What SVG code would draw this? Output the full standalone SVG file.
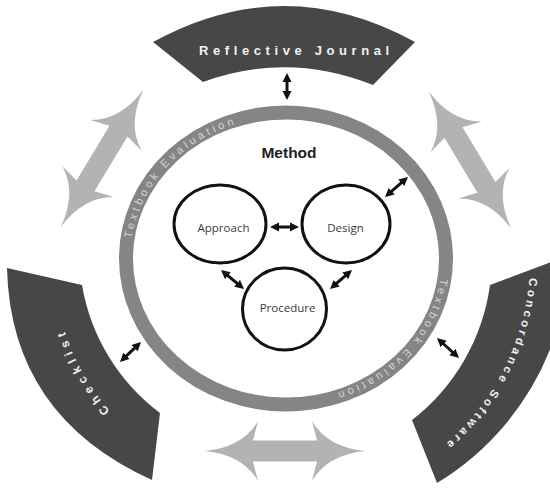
<svg xmlns="http://www.w3.org/2000/svg" width="550" height="489" viewBox="0 0 550 489">
<style>
.banner{fill:#474747}
.btxt{font-family:"Liberation Sans",Arial,sans-serif;font-weight:bold;fill:#f2f2f2}
.ring{fill:none;stroke:#858585;stroke-width:14}
.rtxt{font-family:"Liberation Sans",Arial,sans-serif;font-size:11px;fill:#d6d6d6;letter-spacing:3.5px}
.node{fill:#fff;stroke:#111;stroke-width:3}
.ntxt{font-family:"Open Sans","Liberation Sans",sans-serif;font-size:11.5px;fill:#3a3a3a;text-anchor:middle}
.big{fill:#b3b3b3}
.small{stroke:#111;stroke-width:3;fill:none;marker-start:url(#ah);marker-end:url(#ah)}
</style>
<defs>
<marker id="ah" markerUnits="userSpaceOnUse" markerWidth="10" markerHeight="10" viewBox="0 0 10 10" refX="3" refY="5" orient="auto-start-reverse"><path d="M0,0.5 L9,5 L0,9.5 z" fill="#111"/></marker>
<path id="dbl" d="M80,0 Q42,-4 27,-30 L32,-10.5 L-32,-10.5 L-27,-30 Q-42,-4 -80,0 Q-42,4 -27,30 L-32,10.5 L32,10.5 L27,30 Q42,4 80,0 Z"/>
<path id="ringA" d="M130,258.5 A156,142 0 0 1 442,258.5"/>
<path id="ringB" d="M442,258.5 A156,142 0 0 1 130,258.5"/>
<path id="checkPath" d="M165.5,457.9 A232,232 0 0 1 53,255"/>
<path id="concPath" d="M529.7,246.2 A245,245 0 0 1 418.4,464.5"/>
</defs>

<g id="reflective-journal">
<path class="banner" d="M153,42 Q284,-30 415,42 L373,85 Q288,51 203,82 Z"/>
<text class="btxt" x="199" y="55" font-size="13" letter-spacing="4.6">Reflective Journal</text>
</g>

<g id="checklist">
<path class="banner" d="M7,268 L82,285 A202,202 0 0 0 160,413 L152,480 Q10.5,416 7,268 Z"/>
<text class="btxt" font-size="12" letter-spacing="4.8"><textPath href="#checkPath" startOffset="50%" text-anchor="middle">Checklist</textPath></text>
</g>

<g id="concordance-software">
<path class="banner" d="M490,285 L551,262 L551,347 A275,275 0 0 1 437,483 L412,420 A206,206 0 0 0 490,285 Z"/>
<text class="btxt" font-size="11.5" letter-spacing="3.4"><textPath href="#concPath" startOffset="50%" text-anchor="middle">Concordance Software</textPath></text>
</g>

<g id="textbook-evaluation">
<ellipse class="ring" cx="286" cy="258.5" rx="160" ry="146"/>
<text class="rtxt"><textPath href="#ringA" startOffset="20">Textbook Evaluation</textPath></text>
<text class="rtxt"><textPath href="#ringB" startOffset="20">Textbook Evaluation</textPath></text>
</g>

<g id="method">
<text x="289" y="158" font-family="Liberation Sans, Arial, sans-serif" font-weight="bold" font-size="15.5" fill="#222" text-anchor="middle">Method</text>
</g>

<g id="approach">
<ellipse class="node" cx="220" cy="224" rx="46" ry="39"/>
<text class="ntxt" x="223.5" y="232">Approach</text>
</g>
<g id="design">
<ellipse class="node" cx="346" cy="224" rx="44" ry="39"/>
<text class="ntxt" x="345.5" y="232">Design</text>
</g>
<g id="procedure">
<ellipse class="node" cx="284.5" cy="309" rx="42" ry="41"/>
<text class="ntxt" x="287.5" y="312">Procedure</text>
</g>

<g id="connectors">
<use href="#dbl" class="big" transform="translate(102,158.5) rotate(-59)"/>
<use href="#dbl" class="big" transform="translate(470,160) rotate(59)"/>
<use href="#dbl" class="big" transform="translate(285,451)"/>
<line class="small" x1="287" y1="79" x2="287" y2="94"/>
<line class="small" x1="124.3" y1="357.9" x2="136.7" y2="346.1"/>
<line class="small" x1="441.4" y1="342" x2="454.6" y2="354"/>
<line class="small" x1="389.5" y1="193.1" x2="403.5" y2="180.9"/>
<line class="small" x1="276" y1="227" x2="293" y2="227"/>
<line class="small" x1="225.6" y1="273.8" x2="239.4" y2="285.2"/>
<line class="small" x1="347.5" y1="273.9" x2="334.5" y2="285.1"/>
</g>
</svg>
